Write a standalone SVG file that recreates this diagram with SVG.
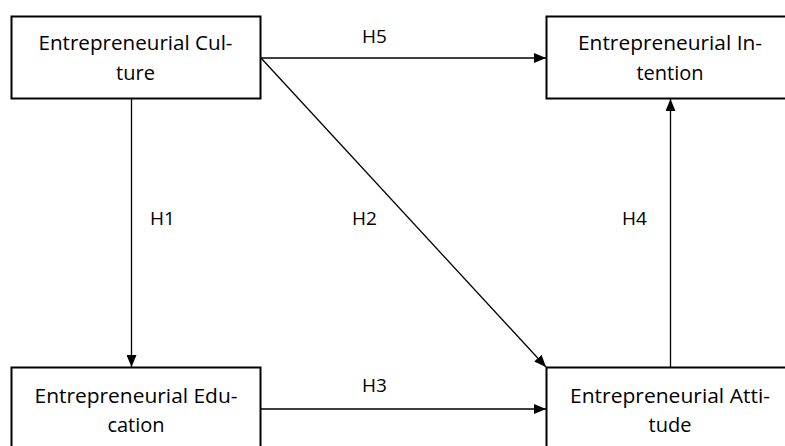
<svg xmlns="http://www.w3.org/2000/svg" width="785" height="446" viewBox="0 0 785 446">
<style>
.box{fill:#fff;stroke:#000;stroke-width:2}
.t{font-family:"Open Sans","Noto Sans",sans-serif;font-size:20px;fill:#000;text-anchor:middle}
.l{font-family:"Open Sans","Noto Sans",sans-serif;font-size:19px;fill:#000}
.c{stroke:#000;stroke-width:1.3;fill:none}
</style>
<defs>
<marker id="ah" markerWidth="12" markerHeight="10" refX="12" refY="5" orient="auto" markerUnits="userSpaceOnUse">
<path d="M0,0 L12,5 L0,10 Z" fill="#000"/>
</marker>
</defs>
<rect width="785" height="446" fill="#fff"/>
<g id="connectors">
<line class="c" x1="261" y1="58" x2="546" y2="58" marker-end="url(#ah)"/>
<line class="c" x1="261" y1="58" x2="546" y2="367" marker-end="url(#ah)"/>
<line class="c" x1="131.5" y1="99" x2="131.5" y2="367" marker-end="url(#ah)"/>
<line class="c" x1="261" y1="409" x2="546" y2="409" marker-end="url(#ah)"/>
<line class="c" x1="670.5" y1="367" x2="670.5" y2="99" marker-end="url(#ah)"/>
<text class="l" x="362" y="43">H5</text>
<text class="l" x="150" y="225">H1</text>
<text class="l" x="352" y="225">H2</text>
<text class="l" x="622" y="225">H4</text>
<text class="l" x="362" y="392">H3</text>
</g>
<g id="culture">
<rect class="box" x="11.5" y="16.5" width="249" height="82"/>
<text class="t" x="135.5" y="50" textLength="194" lengthAdjust="spacingAndGlyphs">Entrepreneurial Cul-</text>
<text class="t" x="135.5" y="80">ture</text>
</g>
<g id="intention">
<rect class="box" x="546.5" y="16.5" width="248" height="82"/>
<text class="t" x="670" y="50" textLength="184" lengthAdjust="spacingAndGlyphs">Entrepreneurial In-</text>
<text class="t" x="670" y="80">tention</text>
</g>
<g id="education">
<rect class="box" x="11.5" y="367.5" width="249" height="90"/>
<text class="t" x="136" y="403" textLength="203" lengthAdjust="spacingAndGlyphs">Entrepreneurial Edu-</text>
<text class="t" x="136" y="432">cation</text>
</g>
<g id="attitude">
<rect class="box" x="546.5" y="367.5" width="248" height="90"/>
<text class="t" x="670" y="403" textLength="200" lengthAdjust="spacingAndGlyphs">Entrepreneurial Atti-</text>
<text class="t" x="670" y="432">tude</text>
</g>
</svg>
